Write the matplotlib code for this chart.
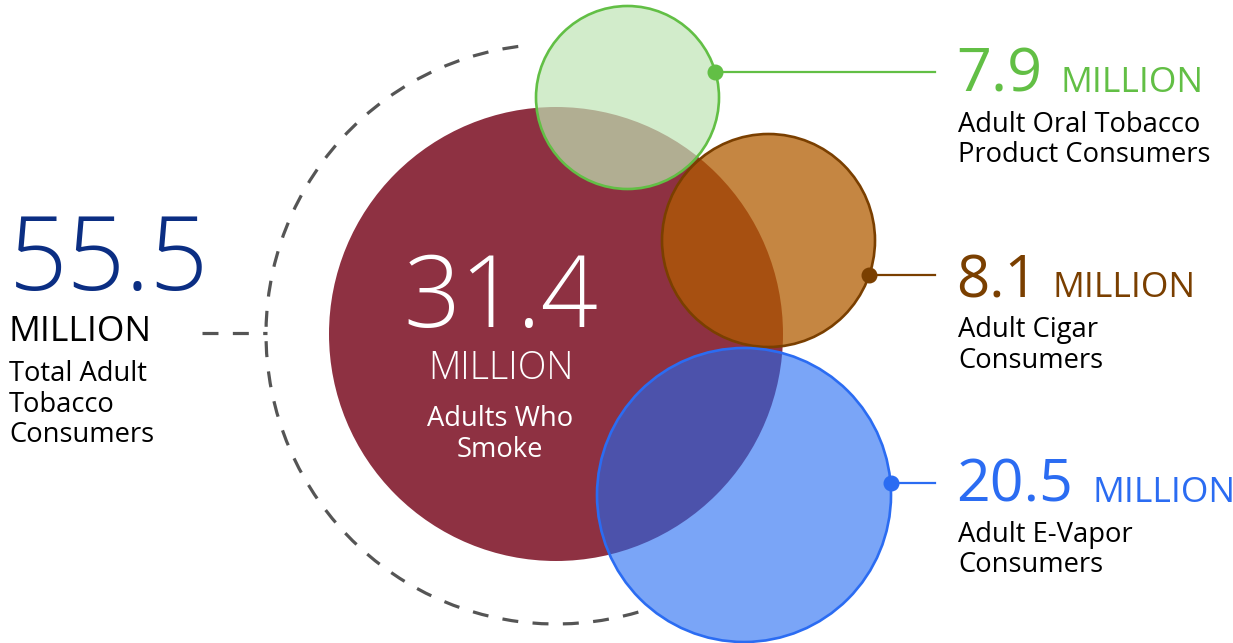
import numpy as np
import matplotlib
matplotlib.use("Agg")
import matplotlib.pyplot as plt
from matplotlib.patches import Circle, Arc

# ---------------- data ----------------
total_value = "55.5"
total_unit = "MILLION"
total_label = ["Total Adult", "Tobacco", "Consumers"]

center_value = "31.4"
center_unit = "MILLION"
center_label = ["Adults Who", "Smoke"]

segment_values = ["7.9", "8.1", "20.5"]
segment_units = ["MILLION", "MILLION", "MILLION"]
segment_labels = [["Adult Oral Tobacco", "Product Consumers"],
                  ["Adult Cigar", "Consumers"],
                  ["Adult E-Vapor", "Consumers"]]

# ---------------- style / layout (pixels) ----------------
W, H = 1233, 643
FONT = ["Open Sans", "DejaVu Sans"]

red = "#8E3142"
navy = "#0B2E83"
seg_edge = ["#62BF45", "#7A3F00", "#2B6CF2"]
seg_fill = [(192/255, 228/255, 181/255, 0.70),
            (177/255, 92/255, 0/255, 0.74),
            (33/255, 105/255, 242/255, 0.60)]
seg_text = ["#62BF45", "#7A3F00", "#2B6CF2"]

main_c, main_r = (556, 334), 227
seg_c = [(627.5, 97.5), (768.5, 240.5), (744, 495)]
seg_r = [91.5, 106.5, 147]
dot_y = [72, 275, 483]
line_end_x = 935
text_x = 958
num_base = [92, 297, 502]
num_size = [44, 42, 42.5]
unit_x = [1060, 1053, 1092]
unit_size = [25.5, 25.5, 25.5]
desc_gap = 30.5
desc_size = 19.7

fig = plt.figure(figsize=(W / 100, H / 100), dpi=100)
ax = fig.add_axes([0, 0, 1, 1])
ax.set_xlim(0, W)
ax.set_ylim(H, 0)
ax.axis("off")

# dashed arc around main circle
arc_r = 290
ax.add_patch(Arc(main_c, 2 * arc_r, 2 * arc_r, theta1=73.5, theta2=264,
                 color="#555555", lw=2.3, ls=(0, (5, 4.5)), zorder=1))
ax.plot([202, 267], [333, 333], color="#555555", lw=2.3, ls=(0, (5, 4.5)),
        solid_capstyle="butt", dash_capstyle="butt", zorder=1)

# main circle
ax.add_patch(Circle(main_c, main_r, facecolor=red, edgecolor="none", zorder=2))

# segment circles
for i in range(3):
    ax.add_patch(Circle(seg_c[i], seg_r[i], facecolor=seg_fill[i], edgecolor="none", zorder=3 + i))
    ax.add_patch(Circle(seg_c[i], seg_r[i], facecolor="none", edgecolor=seg_edge[i], lw=1.9, zorder=3 + i))
    cx, cy = seg_c[i]
    dx = np.sqrt(seg_r[i] ** 2 - (dot_y[i] - cy) ** 2)
    x0 = cx + dx
    ax.plot([x0, line_end_x], [dot_y[i], dot_y[i]], color=seg_edge[i], lw=1.6, zorder=7)
    ax.plot([x0], [dot_y[i]], "o", color=seg_edge[i], ms=10.5, zorder=8)

# left total text
ax.text(9, 290, total_value, color=navy, fontsize=74, family=FONT, fontweight="light",
        ha="left", va="baseline", zorder=10)
ax.text(9, 341, total_unit, color="black", fontsize=25.5, family=FONT,
        ha="left", va="baseline", zorder=10)
for j, line in enumerate(total_label):
    ax.text(9, 381 + j * desc_gap, line, color="black", fontsize=desc_size, family=FONT,
            ha="left", va="baseline", zorder=10)

# center text
ax.text(501, 327, center_value, color="white", fontsize=72, family=FONT, fontweight="light",
        ha="center", va="baseline", zorder=10)
ax.text(501, 379, center_unit, color="white", fontsize=27, family=FONT, fontweight="light",
        ha="center", va="baseline", zorder=10)
for j, line in enumerate(center_label):
    ax.text(500, 426 + j * 31, line, color="white", fontsize=desc_size, family=FONT,
            ha="center", va="baseline", zorder=10)

# right texts
for i in range(3):
    ax.text(text_x - 2, num_base[i], segment_values[i], color=seg_text[i], fontsize=num_size[i],
            family=FONT, ha="left", va="baseline", zorder=10)
    ax.text(unit_x[i], num_base[i], segment_units[i], color=seg_text[i], fontsize=unit_size[i],
            family=FONT, ha="left", va="baseline", zorder=10)
    for j, line in enumerate(segment_labels[i]):
        ax.text(text_x, num_base[i] + 40 + j * desc_gap, line, color="black", fontsize=desc_size,
                family=FONT, ha="left", va="baseline", zorder=10)

fig.savefig("out.png", dpi=100)
